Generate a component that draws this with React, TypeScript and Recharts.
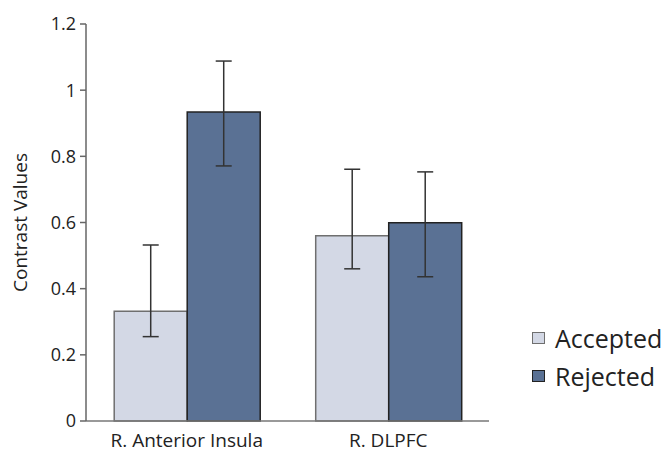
import React from 'react';
import { BarChart, Bar, XAxis, YAxis, ErrorBar, Label } from 'recharts';

// regions on the x axis
const regions = ['R. Anterior Insula', 'R. DLPFC'];

// bar heights
const accepted = [0.332, 0.56];
const rejected = [0.934, 0.599];

// error bar ends (low, high)
const acceptedLow = [0.255, 0.46];
const acceptedHigh = [0.532, 0.761];
const rejectedLow = [0.771, 0.436];
const rejectedHigh = [1.088, 0.753];

const yTicks = [0, 0.2, 0.4, 0.6, 0.8, 1, 1.2];

const data = regions.map((name, i) => ({
  name,
  accepted: accepted[i],
  rejected: rejected[i],
  accErr: [accepted[i] - acceptedLow[i], acceptedHigh[i] - accepted[i]],
  rejErr: [rejected[i] - rejectedLow[i], rejectedHigh[i] - rejected[i]],
}));

const font = '"Open Sans", sans-serif';

const legendItems = [
  { label: 'Accepted', fill: '#d3d8e5', stroke: '#6f6f6f' },
  { label: 'Rejected', fill: '#5a7194', stroke: '#222' },
];

const YTitle = (props: any) => {
  const { viewBox } = props;
  const cy = viewBox.y + viewBox.height / 2;
  return (
    <text
      x={27}
      y={cy}
      transform={`rotate(-90, 27, ${cy})`}
      textAnchor="middle"
      fill="#222"
      fontSize={19}
      fontFamily={font}
    >
      Contrast Values
    </text>
  );
};

export default function App() {
  return (
    <div style={{ position: 'absolute', left: 0, top: 0, width: 669, height: 456, background: '#fff' }}>
      <BarChart
        width={669}
        height={456}
        data={data}
        margin={{ top: 24, right: 180, left: 0, bottom: 0 }}
        barGap={0}
        barCategoryGap="14%"
      >
        <XAxis
          dataKey="name"
          tickLine={false}
          axisLine={{ stroke: '#777', strokeWidth: 1.5 }}
          height={35}
          tick={{ fill: '#222', fontSize: 19, fontFamily: font }}
          tickMargin={7}
        />
        <YAxis
          domain={[0, 1.2]}
          ticks={yTicks}
          width={86}
          axisLine={{ stroke: '#666', strokeWidth: 1.5 }}
          tickLine={{ stroke: '#666', strokeWidth: 1.5 }}
          tickSize={6}
          tick={{ fill: '#222', fontSize: 18, fontFamily: font }}
          tickMargin={4}
        >
          <Label content={YTitle} />
        </YAxis>
        <Bar dataKey="accepted" fill="#d3d8e5" stroke="#6f6f6f" strokeWidth={1.5} isAnimationActive={false}>
          <ErrorBar dataKey="accErr" width={8} stroke="#333" strokeWidth={1.5} />
        </Bar>
        <Bar dataKey="rejected" fill="#5a7194" stroke="#222" strokeWidth={1.5} isAnimationActive={false}>
          <ErrorBar dataKey="rejErr" width={8} stroke="#333" strokeWidth={1.5} />
        </Bar>
      </BarChart>
      <div style={{ position: 'absolute', left: 532, top: 319, fontFamily: font }}>
        {legendItems.map(item => (
          <div key={item.label} style={{ display: 'flex', alignItems: 'center', height: 38 }}>
            <span style={{
              display: 'inline-block',
              width: 11,
              height: 10,
              background: item.fill,
              border: `1.5px solid ${item.stroke}`,
              marginRight: 10,
            }} />
            <span style={{ fontSize: 25, color: '#222', whiteSpace: 'nowrap' }}>{item.label}</span>
          </div>
        ))}
      </div>
    </div>
  );
}
